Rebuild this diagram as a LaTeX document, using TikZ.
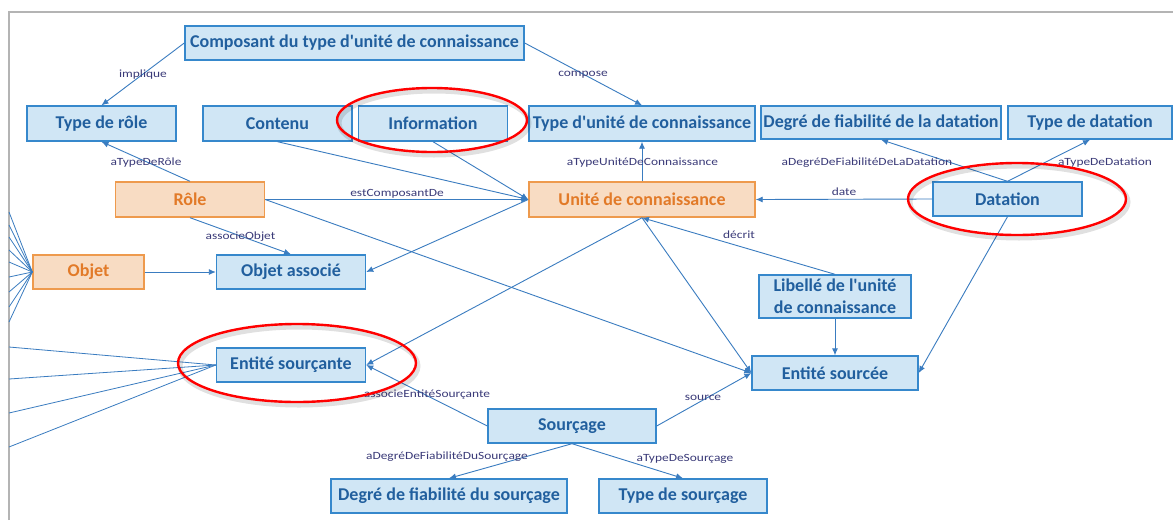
\documentclass[tikz,border=0pt]{standalone}
\usepackage{fontspec}
\setmainfont{Carlito}[Ligatures=TeXOff]
\newfontfamily\lblfont{Carlito}[FakeStretch=1.22]
\usetikzlibrary{arrows.meta}
\definecolor{bfill}{HTML}{D0E6F5}
\definecolor{bdraw}{HTML}{3688CC}
\definecolor{btext}{HTML}{215F9E}
\definecolor{ofill}{HTML}{F8DCC3}
\definecolor{odraw}{HTML}{EE9A4D}
\definecolor{otext}{HTML}{E27A28}
\definecolor{edgec}{HTML}{3A7CC0}
\definecolor{lblc}{HTML}{3A3A78}
\definecolor{framec}{HTML}{B4B4B4}
\tikzset{
  bbox/.style={draw=bdraw, fill=bfill, text=btext, line width=1.4pt, inner sep=0pt,
    font=\fontsize{18}{22}\selectfont\bfseries, align=center},
  obox/.style={draw=odraw, fill=ofill, text=otext, line width=1.4pt, inner sep=0pt,
    font=\fontsize{18}{22}\selectfont\bfseries, align=center},
  conn/.style={draw=edgec, line width=0.9pt, -{Latex[length=7pt,width=6pt]}},
  fan/.style={draw=edgec, line width=0.8pt},
  lbl/.style={text=lblc, inner sep=0pt, font=\lblfont\fontsize{11}{12}\selectfont},
  ring/.style={draw=red, line width=2.4pt},
  ringshadow/.style={draw=black, opacity=0.12, line width=5pt},
}
\begin{document}
\begin{tikzpicture}[x=1pt,y=-1pt]
\useasboundingbox (0,0) rectangle (1173,520);
\fill[white] (0,0) rectangle (1173,520);
% frame
\draw[framec, line width=2pt] (9,520) -- (9,12) -- (1173,12);

% nodes
\node[bbox, minimum width=339, minimum height=34] (comp) at (354.5,43) {Composant du type d'unité de connaissance};
\node[bbox, minimum width=149, minimum height=35] (trole) at (101.5,123.5) {Type de rôle};
\node[bbox, minimum width=149, minimum height=35] (contenu) at (277.5,123.5) {Contenu};
\node[bbox, minimum width=149, minimum height=35] (info) at (433,123.5) {Information};
\node[bbox, minimum width=226, minimum height=35] (tuc) at (642,123.5) {Type d'unité de connaissance};
\node[bbox, minimum width=240, minimum height=33] (dfd) at (881,122.5) {Degré de fiabilité de la datation};
\node[bbox, minimum width=164, minimum height=33] (tdat) at (1090,122.5) {Type de datation};
\node[obox, minimum width=149, minimum height=35] (role) at (190,199.5) {Rôle};
\node[obox, minimum width=226, minimum height=35] (uc) at (642,199.5) {Unité de connaissance};
\node[bbox, minimum width=149, minimum height=34] (dat) at (1007.5,199) {Datation};
\node[obox, minimum width=111, minimum height=34] (objet) at (88.5,272) {Objet};
\node[bbox, minimum width=149, minimum height=34] (oa) at (291,272) {Objet associé};
\node[bbox, minimum width=152, minimum height=43] (lib) at (835,296.5) {Libellé de l'unité\\de connaissance};
\node[bbox, minimum width=149, minimum height=34] (es) at (291,365) {Entité sourçante};
\node[bbox, minimum width=166, minimum height=34] (esee) at (835,373) {Entité sourcée};
\node[bbox, minimum width=168, minimum height=34] (src) at (572,426) {Sourçage};
\node[bbox, minimum width=236, minimum height=34] (dfs) at (449,496) {Degré de fiabilité du sourçage};
\node[bbox, minimum width=168, minimum height=34] (ts) at (683,496) {Type de sourçage};

% fan coordinates on the left border
\foreach \i/\y in {1/212,2/225,3/237,4/250,5/262,6/277,7/292,8/307,9/322}
  \coordinate (fo\i) at (9,\y);
\foreach \i/\y in {1/347,2/379,3/413,4/447}
  \coordinate (fe\i) at (9,\y);
\foreach \i in {1,...,9} \draw[fan] (objet.west) -- (fo\i);
\foreach \i in {1,...,4} \draw[fan] (es.west) -- (fe\i);

% connectors
\draw[conn] (comp.west) -- (trole.north);
\draw[conn] (comp.east) -- (tuc.north);
\draw[conn] (uc.north) -- (tuc.south);
\draw[conn] (contenu.south) -- (uc.west);
\draw[conn] (info.south) -- (uc.west);
\draw[conn] (role.east) -- (uc.west);
\draw[conn] (role.north) -- (trole.south);
\draw[conn] (role.south) -- (oa.north);
\draw[conn] (objet.east) -- (oa.west);
\draw[conn] (uc.west) -- (oa.east);
\draw[conn] (role.east) -- (esee.west);
\draw[conn] (uc.south) -- (es.east);
\draw[conn] (uc.south) -- (esee.west);
\draw[conn] (lib.north) -- (uc.south);
\draw[conn] (lib.south) -- (esee.north);
\draw[conn] (dat.west) -- (uc.east);
\draw[conn] (dat.north) -- (dfd.south);
\draw[conn] (dat.north) -- (tdat.south);
\draw[conn] (dat.south) -- (esee.east);
\draw[conn] (src.west) -- (es.east);
\draw[conn] (src.east) -- (esee.west);
\draw[conn] (src.south) -- (dfs.north);
\draw[conn] (src.south) -- (ts.north);

% labels
\node[lbl] (l1) at (143,75) {implique};
\node[lbl] (l2) at (583,75) {compose};
\node[lbl] (l3) at (642.5,163) {aTypeUnitéDeConnaissance};
\node[lbl] (l4) at (146,163) {aTypeDeRôle};
\node[lbl] (l5) at (397,194) {estComposantDe};
\node[lbl] (l6) at (240.5,237) {associeObjet};
\node[lbl] (l7) at (739,235) {décrit};
\node[lbl] (l8) at (844,192) {date};
\node[lbl] (l9) at (867,163) {aDegréDeFiabilitéDeLaDatation};
\node[lbl] (l10) at (1105,163) {aTypeDeDatation};
\node[lbl] (l11) at (427,395) {associeEntitéSourçante};
\node[lbl] (l12) at (703,398) {source};
\node[lbl] (l13) at (447,457) {aDegréDeFiabilitéDuSourçage};
\node[lbl] (l14) at (685,459) {aTypeDeSourçage};

% red highlight ellipses
\draw[ringshadow] (434,123) ellipse [x radius=95, y radius=32];
\draw[ring] (432,120) ellipse [x radius=95, y radius=32];
\draw[ringshadow] (1019,202) ellipse [x radius=109, y radius=36];
\draw[ring] (1017,199) ellipse [x radius=109, y radius=36];
\draw[ringshadow] (299,366) ellipse [x radius=119, y radius=39];
\draw[ring] (297,363) ellipse [x radius=119, y radius=39];
\end{tikzpicture}
\end{document}
